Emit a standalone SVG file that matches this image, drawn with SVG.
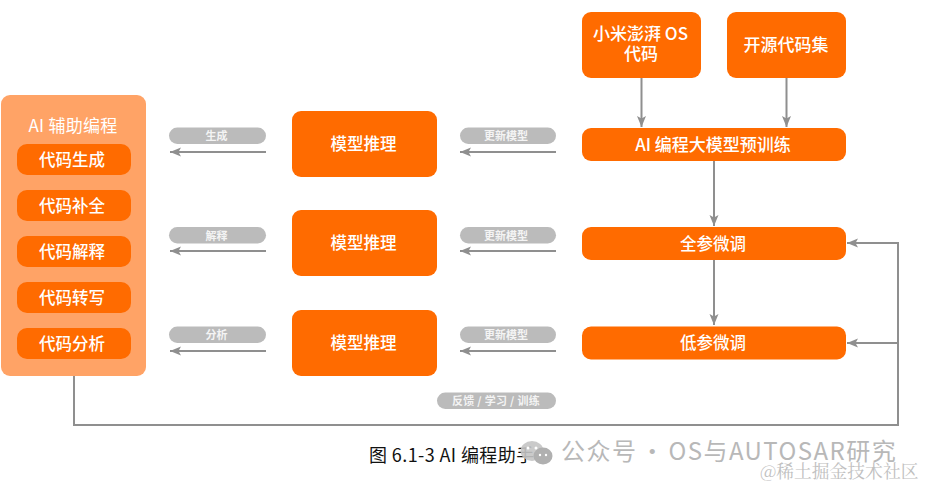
<svg xmlns="http://www.w3.org/2000/svg" width="926" height="488" viewBox="0 0 926 488">
<style>
text{font-family:"Noto Sans CJK SC","Noto Sans",sans-serif;text-anchor:middle}
.o{fill:#ff6b00}
.t{fill:#fff;font-size:16.500px;font-weight:500}
.b{font-size:17px}
.p{fill:#bbb}
.s{fill:#f4f4f4;font-size:11px;font-weight:700}
.c{fill:none;stroke:#8f8f8f;stroke-width:2}
</style>
<defs>
<marker id="a" markerUnits="userSpaceOnUse" markerWidth="12" markerHeight="12" refX="11" refY="6" orient="auto">
<path d="M0 1.500L11 6L0 10.500L2.500 6Z" fill="#8f8f8f"/>
</marker>
</defs>
<rect width="926" height="488" fill="#fff"/>
<g id="connectors">
<path class="c" marker-end="url(#a)" d="M266 152H170"/>
<path class="c" marker-end="url(#a)" d="M266 251H170"/>
<path class="c" marker-end="url(#a)" d="M266 351H170"/>
<path class="c" marker-end="url(#a)" d="M556 152H460"/>
<path class="c" marker-end="url(#a)" d="M556 251H460"/>
<path class="c" marker-end="url(#a)" d="M556 351H460"/>
<path class="c" marker-end="url(#a)" d="M641.500 78V127"/>
<path class="c" marker-end="url(#a)" d="M786.500 78V127"/>
<path class="c" marker-end="url(#a)" d="M714 161V226"/>
<path class="c" marker-end="url(#a)" d="M714 260V325"/>
<path class="c" marker-end="url(#a)" d="M74 376V425H898V243H847"/>
<path class="c" marker-end="url(#a)" d="M898 343H847"/>
</g>
<g id="panel">
<rect x="1" y="95" width="145" height="281" rx="9" fill="#ffa366"/>
<text class="t b" x="73" y="132" style="font-weight:400;letter-spacing:.3px">AI 辅助编程</text>
</g>
<g id="n1"><rect class="o" x="17" y="144" width="114" height="31" rx="10"/><text class="t" x="72" y="165.500">代码生成</text></g>
<g id="n2"><rect class="o" x="17" y="190" width="114" height="31" rx="10"/><text class="t" x="72" y="211.500">代码补全</text></g>
<g id="n3"><rect class="o" x="17" y="236" width="114" height="31" rx="10"/><text class="t" x="72" y="257.500">代码解释</text></g>
<g id="n4"><rect class="o" x="17" y="282" width="114" height="31" rx="10"/><text class="t" x="72" y="303.500">代码转写</text></g>
<g id="n5"><rect class="o" x="17" y="328" width="114" height="31" rx="10"/><text class="t" x="72" y="349.500">代码分析</text></g>
<g id="l1"><rect class="p" x="169" y="127.500" width="97" height="16.500" rx="8.250"/><text class="s" x="216.500" y="140">生成</text></g>
<g id="l2"><rect class="p" x="169" y="227" width="97" height="16.500" rx="8.250"/><text class="s" x="216.500" y="239.500">解释</text></g>
<g id="l3"><rect class="p" x="169" y="326.500" width="97" height="16.500" rx="8.250"/><text class="s" x="216.500" y="339">分析</text></g>
<g id="m1"><rect class="o" x="292" y="111" width="145" height="66" rx="9"/><text class="t" x="363.500" y="150">模型推理</text></g>
<g id="m2"><rect class="o" x="292" y="210" width="145" height="66" rx="9"/><text class="t" x="363.500" y="249">模型推理</text></g>
<g id="m3"><rect class="o" x="292" y="310" width="145" height="66" rx="9"/><text class="t" x="363.500" y="349">模型推理</text></g>
<g id="u1"><rect class="p" x="460" y="127.500" width="96" height="16.500" rx="8.250"/><text class="s" x="506" y="140">更新模型</text></g>
<g id="u2"><rect class="p" x="460" y="227" width="96" height="16.500" rx="8.250"/><text class="s" x="506" y="239.500">更新模型</text></g>
<g id="u3"><rect class="p" x="460" y="326.500" width="96" height="16.500" rx="8.250"/><text class="s" x="506" y="339">更新模型</text></g>
<g id="f"><rect class="p" x="437" y="392.500" width="119" height="16.500" rx="8.250"/><text class="s" x="496" y="405" style="letter-spacing:.3px">反馈 / 学习 / 训练</text></g>
<g id="src1"><rect class="o" x="582" y="12" width="119" height="66" rx="9"/><text class="t b" y="40"><tspan x="640.500">小米澎湃 OS</tspan><tspan x="641" dy="20">代码</tspan></text></g>
<g id="src2"><rect class="o" x="727" y="12" width="119" height="66" rx="9"/><text class="t b" x="786" y="51">开源代码集</text></g>
<g id="train"><rect class="o" x="582" y="128" width="264" height="33" rx="9"/><text class="t b" x="713" y="150.500">AI 编程大模型预训练</text></g>
<g id="full"><rect class="o" x="582" y="227" width="264" height="33" rx="9"/><text class="t" x="713" y="249.500">全参微调</text></g>
<g id="low"><rect class="o" x="582" y="326.500" width="264" height="33" rx="9"/><text class="t" x="713" y="349">低参微调</text></g>
<text x="369" y="462" font-size="18" fill="#111" style="text-anchor:start;letter-spacing:.4px">图 6.1-3 AI 编程助手</text>
<g id="watermark">
<ellipse cx="532" cy="451" rx="11.500" ry="10" fill="#c4c4c4" fill-opacity=".9"/>
<ellipse cx="543" cy="456" rx="9.500" ry="8.500" fill="#b0b0b0"/>
<circle cx="528" cy="448" r="1.500" fill="#fff"/><circle cx="536" cy="448" r="1.500" fill="#fff"/>
<circle cx="540" cy="455" r="1.200" fill="#fff"/><circle cx="546" cy="455" r="1.200" fill="#fff"/>
<text x="561" y="460" font-size="24" fill="#b8b8b8" style="text-anchor:start;letter-spacing:1.450px;word-spacing:-4px">公众号 · OS与AUTOSAR研究</text>
<text x="760" y="478" font-size="17.800" fill="#c0c0c0" style="text-anchor:start;font-family:'Noto Serif CJK SC','Liberation Serif','Noto Sans CJK SC',serif">@稀土掘金技术社区</text>
</g>
</svg>
